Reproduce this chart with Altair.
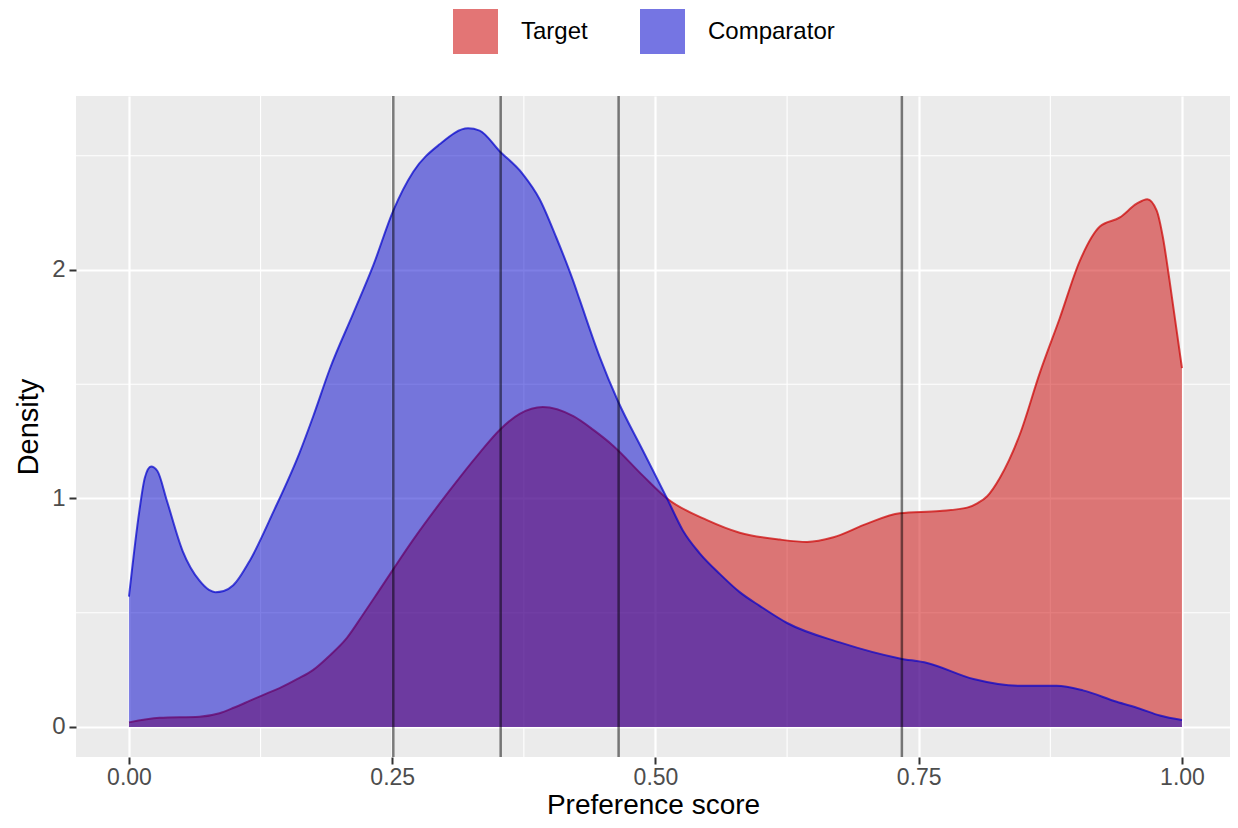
import altair as alt
import pandas as pd

# ---- data ----
comp_x = [0.000, 0.010, 0.015, 0.021, 0.027, 0.036, 0.051, 0.067, 0.076, 0.082,
          0.090, 0.099, 0.115, 0.137, 0.162, 0.175, 0.191, 0.213, 0.232, 0.251,
          0.270, 0.295, 0.322, 0.333, 0.352, 0.374, 0.390, 0.406, 0.422, 0.428,
          0.447, 0.464, 0.488, 0.511, 0.526, 0.542, 0.561, 0.580, 0.599, 0.625,
          0.675, 0.732, 0.758, 0.802, 0.846, 0.881, 0.906, 0.938, 0.960, 0.979,
          1.000]
comp_y = [0.57, 0.95, 1.09, 1.14, 1.12, 0.99, 0.77, 0.64, 0.60, 0.59,
          0.595, 0.62, 0.73, 0.94, 1.20, 1.36, 1.57, 1.81, 2.02, 2.26,
          2.43, 2.55, 2.62, 2.61, 2.52, 2.42, 2.31, 2.14, 1.95, 1.87,
          1.62, 1.43, 1.21, 1.00, 0.86, 0.76, 0.67, 0.59, 0.53, 0.455,
          0.37, 0.30, 0.28, 0.21, 0.18, 0.18, 0.16, 0.11, 0.08, 0.05,
          0.03]

target_x = [0.000, 0.029, 0.067, 0.086, 0.100, 0.115, 0.130, 0.143, 0.160, 0.175,
            0.190, 0.207, 0.222, 0.238, 0.270, 0.302, 0.333, 0.352, 0.371, 0.393,
            0.422, 0.441, 0.460, 0.488, 0.511, 0.549, 0.580, 0.618, 0.644, 0.669,
            0.701, 0.732, 0.770, 0.796, 0.806, 0.815, 0.827, 0.836, 0.846, 0.865,
            0.884, 0.903, 0.922, 0.941, 0.957, 0.967, 0.976, 0.982, 0.988, 1.000]
target_y = [0.02, 0.04, 0.045, 0.06, 0.085, 0.115, 0.145, 0.17, 0.21, 0.25,
            0.31, 0.39, 0.49, 0.60, 0.82, 1.02, 1.20, 1.30, 1.37, 1.40,
            1.36, 1.30, 1.23, 1.10, 1.00, 0.905, 0.85, 0.82, 0.81, 0.83,
            0.89, 0.935, 0.945, 0.96, 0.98, 1.01, 1.09, 1.17, 1.28, 1.55,
            1.79, 2.04, 2.19, 2.23, 2.29, 2.31, 2.26, 2.14, 1.96, 1.57]

vlines = [0.251, 0.353, 0.465, 0.734]

groups = ["Target", "Comparator"]
x_ticks = [0.0, 0.25, 0.5, 0.75, 1.0]
y_ticks = [0, 1, 2]
x_minor = [0.125, 0.375, 0.625, 0.875]
y_minor = [0.5, 1.5, 2.5]

# ---- tables ----
df_t = pd.DataFrame({"score": target_x, "density": target_y, "group": "Target"})
df_c = pd.DataFrame({"score": comp_x, "density": comp_y, "group": "Comparator"})
df_v = pd.DataFrame({"score": vlines})
df_mx = pd.DataFrame({"score": x_minor})
df_my = pd.DataFrame({"density": y_minor})

FONT = "Liberation Sans"
xscale = alt.Scale(domain=[-0.0503, 1.0456], nice=False, zero=False)
yscale = alt.Scale(domain=[-0.1315, 2.7615], nice=False, zero=False)
cscale = alt.Scale(domain=groups, range=["#CC0000", "#0000CC"])

xaxis = alt.Axis(values=x_ticks, format=".2f", title="Preference score",
                 grid=True, gridColor="white", gridWidth=2.2,
                 domain=False, tickColor="#333333", tickWidth=2, tickSize=7,
                 labelColor="#4D4D4D", labelFontSize=23, labelFont=FONT,
                 labelPadding=2, titleFont=FONT, titleFontSize=28,
                 titleFontWeight="normal", titleColor="black", titlePadding=2)
yaxis = alt.Axis(values=y_ticks, format="d", title="Density",
                 grid=True, gridColor="white", gridWidth=2.2,
                 domain=False, tickColor="#333333", tickWidth=2, tickSize=7,
                 labelColor="#4D4D4D", labelFontSize=24, labelFont=FONT,
                 labelPadding=4, titleFont=FONT, titleFontSize=29,
                 titleFontWeight="normal", titleColor="black", titlePadding=8)

minor_x = alt.Chart(df_mx).mark_rule(color="white", strokeWidth=1.1).encode(
    x=alt.X("score:Q", scale=xscale, axis=xaxis))
minor_y = alt.Chart(df_my).mark_rule(color="white", strokeWidth=1.1).encode(
    y=alt.Y("density:Q", scale=yscale, axis=yaxis))

legend = alt.Legend(title=None, orient="none", direction="horizontal",
                    legendX=377, legendY=-87, symbolType="square",
                    symbolSize=2025, symbolOpacity=0.54, symbolStrokeWidth=0,
                    labelFont=FONT, labelFontSize=24, labelColor="black",
                    labelOffset=23, columnPadding=52)

def area(df):
    return alt.Chart(df).mark_area(fillOpacity=0.5, interpolate="monotone").encode(
        x=alt.X("score:Q", scale=xscale),
        y=alt.Y("density:Q", scale=yscale),
        color=alt.Color("group:N", scale=cscale, legend=legend, sort=groups))

def outline(df, col):
    return alt.Chart(df).mark_line(color=col, strokeWidth=2, opacity=0.7,
                                   interpolate="monotone").encode(
        x=alt.X("score:Q", scale=xscale),
        y=alt.Y("density:Q", scale=yscale))

rules = alt.Chart(df_v).mark_rule(color="black", strokeWidth=2.5, opacity=0.5).encode(
    x=alt.X("score:Q", scale=xscale))

chart = alt.layer(
    minor_x, minor_y,
    area(df_t), outline(df_t, "#CC0000"),
    area(df_c), outline(df_c, "#0000CC"),
    rules,
).properties(
    width=1154, height=661,
    padding={"left": 68, "top": 88, "right": 0, "bottom": 63},
    autosize=alt.AutoSizeParams(type="none"),
    background="white",
).configure_view(fill="#EBEBEB", stroke=None)

chart.save("out.html", embed_options={"renderer": "svg", "actions": False})
